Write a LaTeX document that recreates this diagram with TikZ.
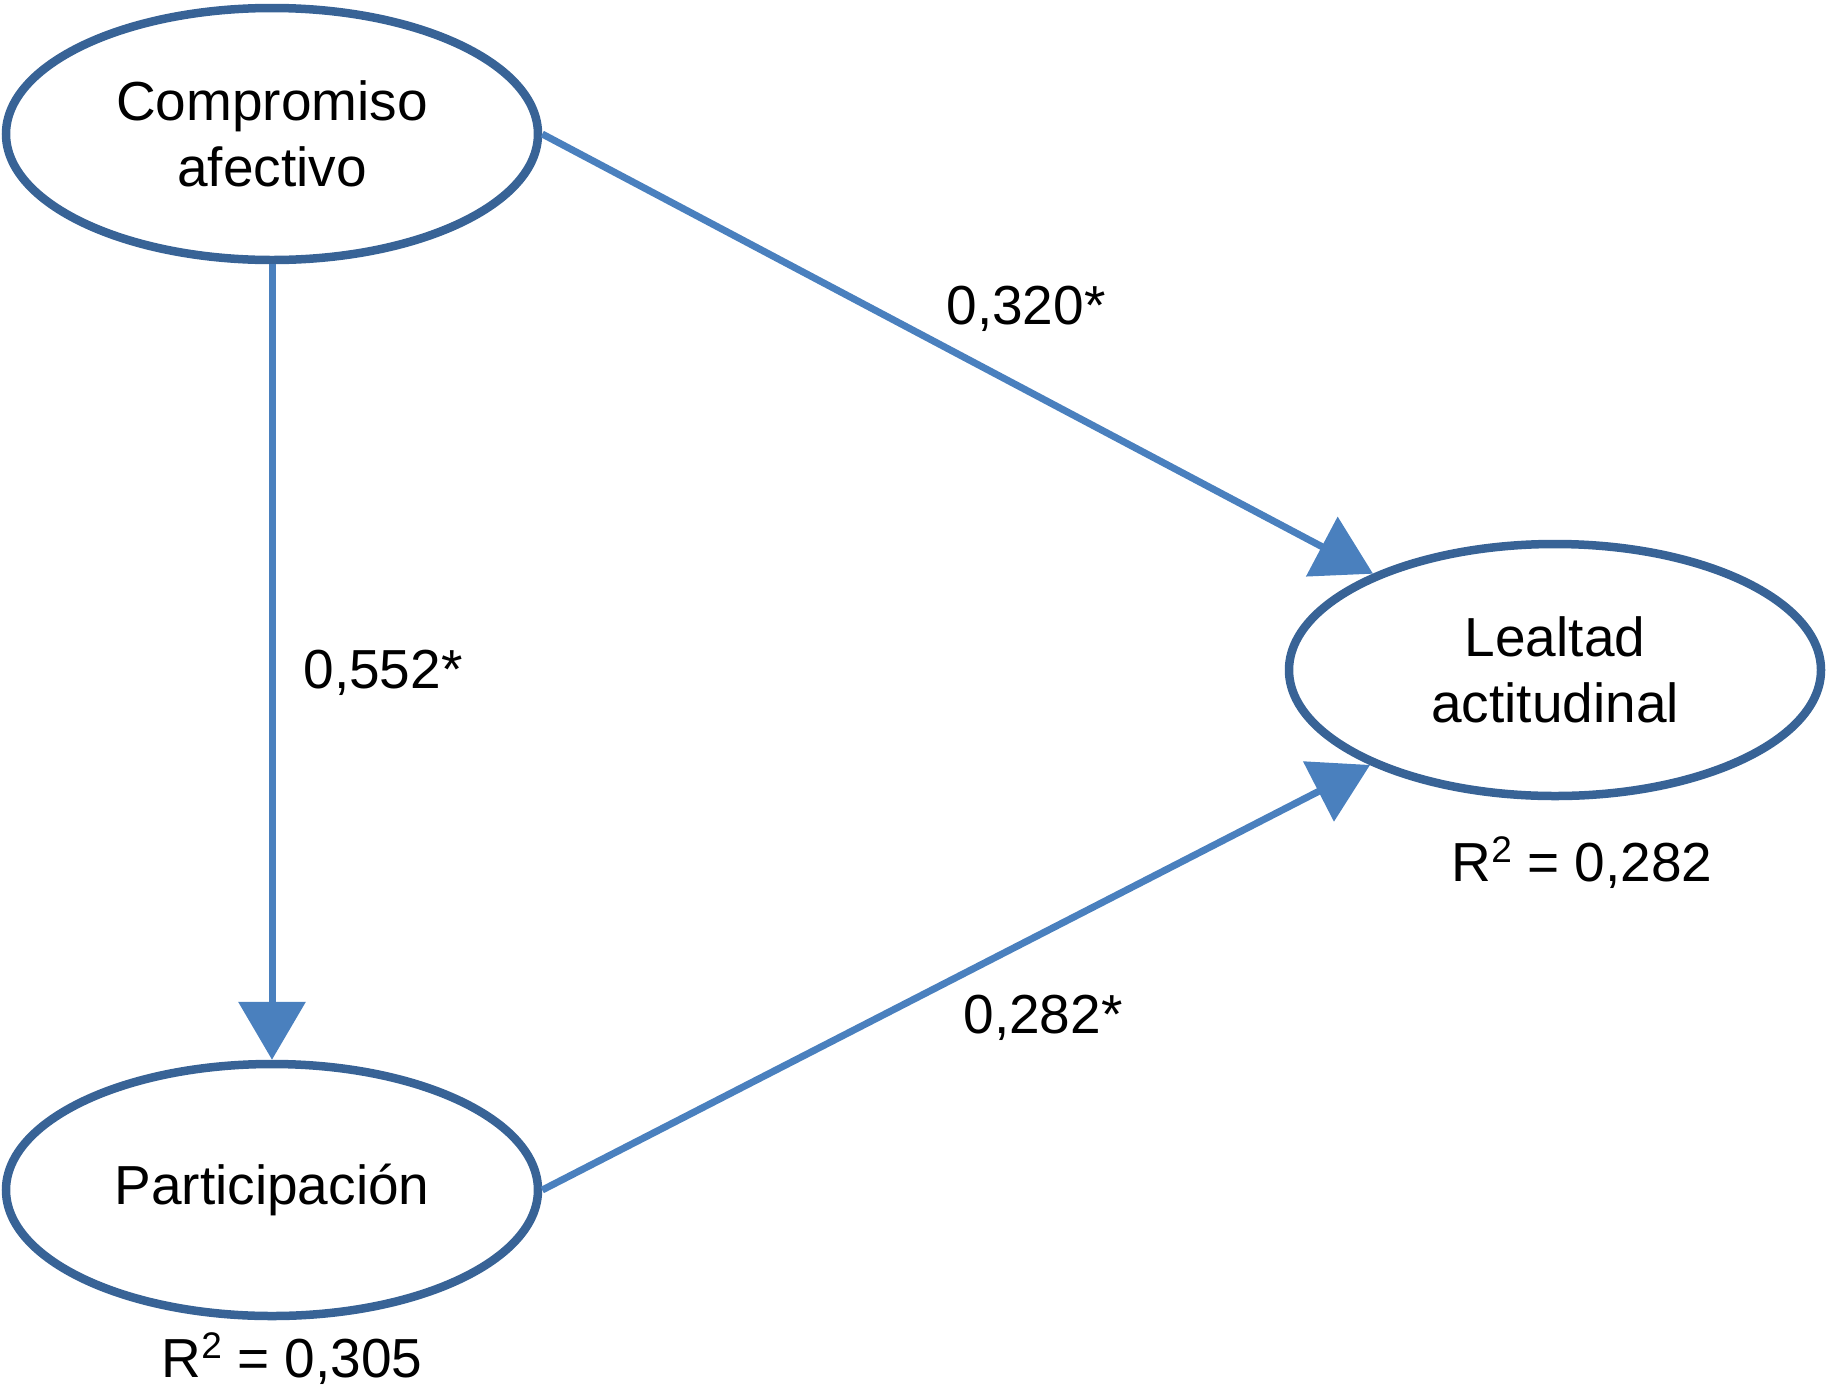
\documentclass[tikz,border=0pt]{standalone}
\usepackage{fontspec}
\setmainfont{Liberation Sans}
\usetikzlibrary{shapes.geometric,arrows.meta}
\definecolor{ellblue}{RGB}{56,99,150}
\definecolor{arrblue}{RGB}{74,128,190}
\newcommand{\sqsup}{\raisebox{19pt}{\fontsize{37}{37}\selectfont 2}}
\begin{document}
\begin{tikzpicture}[x=1pt,y=-1pt,
  latent/.style={ellipse,draw=ellblue,line width=8.5pt,minimum width=532pt,minimum height=252pt,inner sep=0pt,align=center,font=\fontsize{55}{66}\selectfont},
  path/.style={draw=arrblue,line width=7pt,-{Triangle[length=58pt,width=66pt]}},
  lbl/.style={inner sep=0pt,font=\fontsize{55}{66}\selectfont}]
\useasboundingbox (0,0) rectangle (1829,1393);
\node[latent] (ca) at (272,134) {Compromiso\\afectivo};
\node[latent] (pa) at (272,1190) {Participación};
\node[latent] (la) at (1555,670) {Lealtad\\actitudinal};
\draw[path] (ca) -- (pa);
\draw[path] (ca.east) -- (la);
\draw[path] (pa.east) -- (la);
\node[lbl] (l1) at (1026,309) {0,320*};
\node[lbl] (l2) at (383,673) {0,552*};
\node[lbl] (l3) at (1043,1018) {0,282*};
\node[lbl] (r1) at (1582,863) {R\sqsup{} = 0,282};
\node[lbl] (r2) at (292,1359) {R\sqsup{} = 0,305};
\end{tikzpicture}
\end{document}
